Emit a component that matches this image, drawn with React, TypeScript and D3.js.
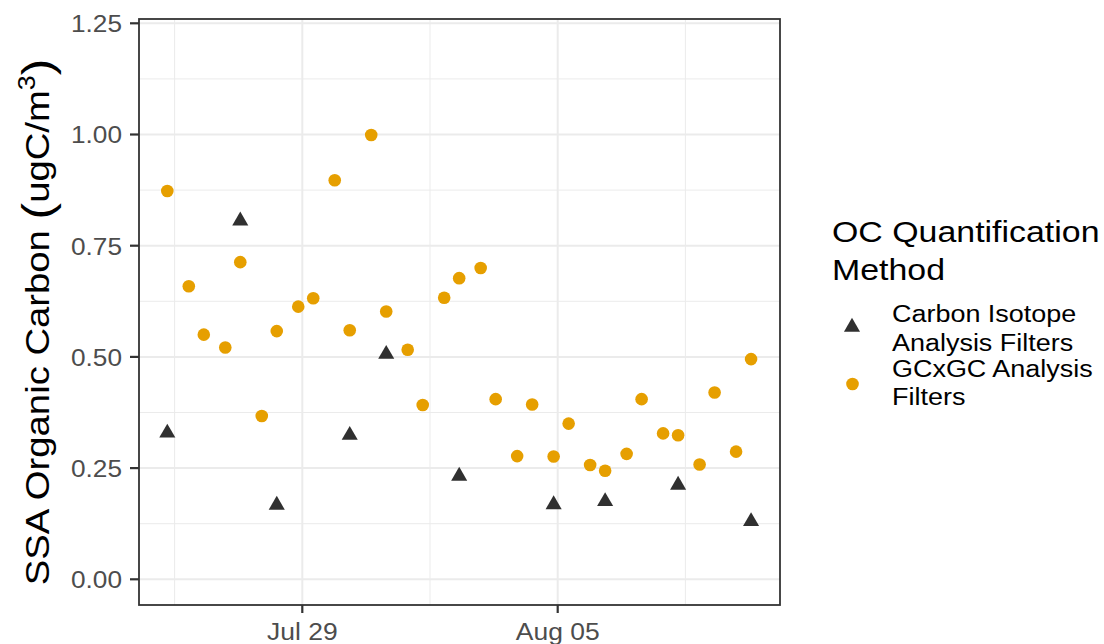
import React from "react";
import * as d3 from "d3";

// ---- data ----
const gcDates = [
  "2019-07-25T07:12", "2019-07-25T21:20", "2019-07-26T07:12", "2019-07-26T21:20",
  "2019-07-27T07:12", "2019-07-27T21:20", "2019-07-28T07:12", "2019-07-28T21:20",
  "2019-07-29T07:12", "2019-07-29T21:20", "2019-07-30T07:12", "2019-07-30T21:20",
  "2019-07-31T07:12", "2019-07-31T21:20", "2019-08-01T07:12", "2019-08-01T21:20",
  "2019-08-02T07:12", "2019-08-02T21:20", "2019-08-03T07:12", "2019-08-03T21:20",
  "2019-08-04T07:12", "2019-08-04T21:20", "2019-08-05T07:12", "2019-08-05T21:20",
  "2019-08-06T07:12", "2019-08-06T21:20", "2019-08-07T07:12", "2019-08-07T21:20",
  "2019-08-08T07:12", "2019-08-08T21:20", "2019-08-09T07:12", "2019-08-09T21:20",
  "2019-08-10T07:12",
];
const gcValues = [
  0.873, 0.659, 0.550, 0.521, 0.713, 0.367, 0.558, 0.613,
  0.632, 0.897, 0.560, 0.999, 0.602, 0.516, 0.392, 0.633,
  0.677, 0.700, 0.405, 0.277, 0.393, 0.276, 0.350, 0.257,
  0.244, 0.282, 0.405, 0.328, 0.324, 0.258, 0.420, 0.287,
  0.495,
];
const isoDates = [
  "2019-07-25T07:12", "2019-07-27T07:12", "2019-07-28T07:12", "2019-07-30T07:12",
  "2019-07-31T07:12", "2019-08-02T07:12", "2019-08-04T21:20", "2019-08-06T07:12",
  "2019-08-08T07:12", "2019-08-10T07:12",
];
const isoValues = [0.329, 0.806, 0.167, 0.324, 0.506, 0.232, 0.168, 0.175, 0.212, 0.130];

const yTicks = [0, 0.25, 0.5, 0.75, 1.0, 1.25];
const yMinor = [0.125, 0.375, 0.625, 0.875, 1.125];
const xTickDates = ["2019-07-29T00:00", "2019-08-05T00:00"];
const xTickLabels = ["Jul 29", "Aug 05"];
const xMinorDates = ["2019-07-25T12:00", "2019-08-01T12:00", "2019-08-08T12:00"];
const legendTitle = ["OC Quantification", "Method"];
const legendLabels = [["Carbon Isotope", "Analysis Filters"], ["GCxGC Analysis", "Filters"]];

const parse = (s: string) => new Date(s + ":00Z");

// ---- layout ----
const W = 1104, H = 644;
const panel = { x0: 139, x1: 780, y0: 19, y1: 605 };
const ORANGE = "#E69F00";
const DARK = "#303030";
const FONT = "'Liberation Sans', Arial, Helvetica, sans-serif";

function SText(props: { x: number; y: number; sx: number; size: number; anchor?: string; fill?: string; rotate?: number; children: any; dy?: string }) {
  const { x, y, sx, size, anchor = "start", fill = "#000", rotate = 0, children, dy } = props;
  return (
    <g transform={`translate(${x},${y}) rotate(${rotate}) scale(${sx},1)`}>
      <text x={0} y={0} dy={dy} textAnchor={anchor} fontSize={size} fill={fill}>{children}</text>
    </g>
  );
}

export default function App() {
  const x = d3.scaleUtc()
    .domain([parse("2019-07-29T00:00"), parse("2019-08-05T00:00")])
    .range([302.3, 557.7]);
  const y = d3.scaleLinear().domain([0, 1.25]).range([579.3, 23.3]);

  const tri = d3.symbol().type(d3.symbolTriangle).size(112)();

  return (
    <svg width={W} height={H} style={{ position: "absolute", left: 0, top: 0, background: "#fff" }}
      fontFamily={FONT}>
      <rect x={0} y={0} width={W} height={H} fill="#fff" />
      {/* grid */}
      <g>
        {yMinor.map((v) => (
          <line key={"ym" + v} x1={panel.x0} x2={panel.x1} y1={y(v)} y2={y(v)} stroke="#EBEBEB" strokeWidth={1} />
        ))}
        {xMinorDates.map((d) => (
          <line key={"xm" + d} y1={panel.y0} y2={panel.y1} x1={x(parse(d))} x2={x(parse(d))} stroke="#EBEBEB" strokeWidth={1} />
        ))}
        {yTicks.map((v) => (
          <line key={"yM" + v} x1={panel.x0} x2={panel.x1} y1={y(v)} y2={y(v)} stroke="#EBEBEB" strokeWidth={2} />
        ))}
        {xTickDates.map((d) => (
          <line key={"xM" + d} y1={panel.y0} y2={panel.y1} x1={x(parse(d))} x2={x(parse(d))} stroke="#EBEBEB" strokeWidth={2} />
        ))}
      </g>
      {/* points */}
      <g>
        {isoDates.map((d, i) => (
          <path key={"t" + i} d={tri} transform={`translate(${x(parse(d))},${y(isoValues[i])})`} fill={DARK} />
        ))}
        {gcDates.map((d, i) => (
          <circle key={"c" + i} cx={x(parse(d))} cy={y(gcValues[i])} r={6.3} fill={ORANGE} />
        ))}
      </g>
      {/* border */}
      <rect x={panel.x0} y={panel.y0} width={panel.x1 - panel.x0} height={panel.y1 - panel.y0}
        fill="none" stroke="#333333" strokeWidth={1.8} />
      {/* y axis */}
      <g>
        {yTicks.map((v) => (
          <g key={"yt" + v}>
            <line x1={panel.x0 - 9} x2={panel.x0} y1={y(v)} y2={y(v)} stroke="#333333" strokeWidth={2.2} />
            <SText x={panel.x0 - 17} y={y(v)} dy="0.36em" sx={1.07} size={24.5} anchor="end" fill="#4D4D4D">
              {d3.format(".2f")(v)}
            </SText>
          </g>
        ))}
      </g>
      {/* x axis */}
      <g>
        {xTickDates.map((d, i) => (
          <g key={"xt" + d}>
            <line x1={x(parse(d))} x2={x(parse(d))} y1={panel.y1} y2={panel.y1 + 8} stroke="#333333" strokeWidth={2.2} />
            <SText x={x(parse(d))} y={640} sx={1.08} size={24.5} anchor="middle" fill="#4D4D4D">
              {xTickLabels[i]}
            </SText>
          </g>
        ))}
      </g>
      {/* y title */}
      <g transform={`translate(49,322) rotate(-90) scale(1.16,1)`}>
        <text x={0} y={0} textAnchor="middle" fontSize={33} fill="#000">
          <tspan>SSA Organic Carbon </tspan>
          <tspan fontSize={43} dy="3">(</tspan>
          <tspan fontSize={33} dy="-3">ugC/m</tspan>
          <tspan fontSize={23} dy="-14">3</tspan>
          <tspan fontSize={43} dy="17">)</tspan>
        </text>
      </g>
      {/* legend */}
      <g>
        <SText x={832} y={242} sx={1.13} size={30}>{legendTitle[0]}</SText>
        <SText x={832} y={280} sx={1.13} size={30}>{legendTitle[1]}</SText>
        <path d={tri} transform={`translate(852,327)`} fill={DARK} />
        <circle cx={852.5} cy={384} r={6.3} fill={ORANGE} />
        <SText x={892} y={322} sx={1.1} size={24.5}>{legendLabels[0][0]}</SText>
        <SText x={892} y={351} sx={1.1} size={24.5}>{legendLabels[0][1]}</SText>
        <SText x={892} y={377} sx={1.1} size={24.5}>{legendLabels[1][0]}</SText>
        <SText x={892} y={405} sx={1.1} size={24.5}>{legendLabels[1][1]}</SText>
      </g>
    </svg>
  );
}
